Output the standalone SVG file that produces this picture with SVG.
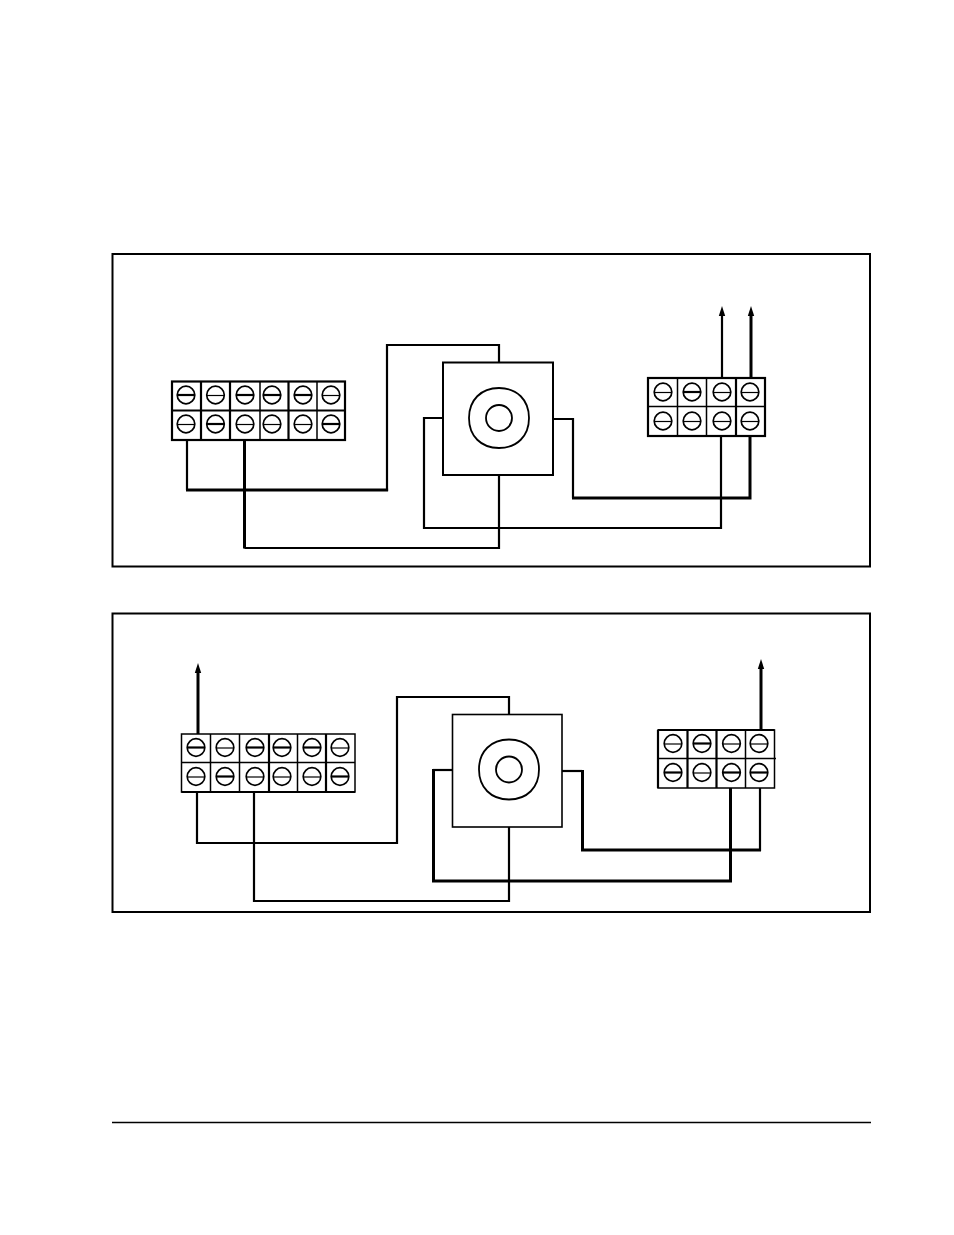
<svg xmlns="http://www.w3.org/2000/svg" width="954" height="1235" viewBox="0 0 954 1235">
<style>
rect,path,line,circle{fill:none;stroke:#000}
.bg{fill:#fff;stroke:none}
.f{stroke-width:2}
.b{stroke-width:2.2}
.t{stroke-width:1.5}
.c{stroke-width:1.7}
.w2{stroke-width:2.2}
.w3{stroke-width:3}
.a2{stroke-width:2.2;marker-end:url(#ah)}
.a3{stroke-width:3;marker-end:url(#ah)}
.r{stroke-width:1.3}
.sw{fill:#fff;stroke-width:2}
.sw2{fill:#fff;stroke-width:1.6}
.kn{stroke-width:1.8}
.s1{stroke-width:1.2}
.s2{stroke-width:2.2}
.head{fill:#000;stroke:none}
</style>
<defs>
<marker id="ah" markerUnits="userSpaceOnUse" markerWidth="12" markerHeight="8" refX="1" refY="4" orient="auto" viewBox="0 0 12 8"><path class="head" d="M0 0.800L10 4L0 7.200Z"/></marker>
<g id="sn"><circle r="8.800" class="c"/><line x1="-9" x2="9" y1="0.500" y2="0.500" class="s1"/></g>
<g id="st"><circle r="8.800" class="c"/><line x1="-9" x2="9" class="s2"/></g>
<g id="knob"><path class="kn" d="M0-30C18-30 30-18 30 0C30 18 18 30 0 30C-18 30-30 18-30 0C-30-18-18-30 0-30Z"/><circle r="13" class="kn"/></g>
</defs>
<rect class="bg" width="954" height="1235"/>
<rect id="frame-top" class="f" x="112.500" y="254" width="757.500" height="312.500"/>
<rect id="frame-bottom" class="f" x="112.500" y="613.500" width="757.500" height="298.500"/>
<line id="rule" class="r" x1="112" y1="1122.500" x2="871" y2="1122.500"/>

<g id="connectors">
<path class="w2" d="M187 440V490M387 491V345H499V362"/>
<path class="w3" d="M186 490H388.100M244.500 440V548.500"/>
<path class="w2" d="M244.500 548H499V475"/>
<path class="w2" d="M443 418H424V528H721V436"/>
<path class="w2" d="M553 419H573V498"/>
<path class="w3" d="M572 498H750V436"/>
<line class="a2" x1="722" y1="378" x2="722" y2="315"/>
<line class="a3" x1="751" y1="378" x2="751" y2="315"/>

<path class="w2" d="M197 792V843H397V697H509V714"/>
<path class="w2" d="M254 792V901H509V827"/>
<path class="w2" d="M452 770H433"/>
<path class="w3" d="M433.500 769V881H730.500V788"/>
<path class="w2" d="M562 771H582"/>
<path class="w3" d="M582.500 770V850H761"/>
<path class="w2" d="M760 851V788"/>
<line class="a3" x1="198" y1="734" x2="198" y2="672"/>
<line class="a3" x1="761" y1="730" x2="761" y2="668"/>
</g>

<g id="block-top-left">
<rect class="b" x="172" y="381.500" width="173" height="58.500"/>
<path class="b" d="M172 410.500H345M201 381.500V440M230 381.500V440M288.500 381.500V440"/>
<path class="t" d="M260 381.500V440M317 381.500V440"/>
<use href="#st" x="186" y="395"/><use href="#sn" x="215.500" y="395"/><use href="#st" x="245" y="395"/><use href="#st" x="272" y="395"/><use href="#st" x="303" y="395"/><use href="#sn" x="331" y="395"/>
<use href="#sn" x="186" y="424"/><use href="#st" x="215.500" y="424"/><use href="#sn" x="245" y="424"/><use href="#sn" x="272" y="424"/><use href="#sn" x="303" y="424"/><use href="#st" x="331" y="424"/>
</g>
<g id="switch-top">
<rect class="sw" x="443" y="362.500" width="110" height="112.500"/>
<use href="#knob" x="499" y="418"/>
</g>
<g id="block-top-right">
<rect class="b" x="648" y="378" width="117" height="58"/>
<path class="t" d="M648 406.500H765M677.500 378V436M706.500 378V436"/>
<path class="b" d="M736 378V436"/>
<use href="#sn" x="663" y="392"/><use href="#st" x="692" y="392"/><use href="#sn" x="722" y="392"/><use href="#sn" x="750" y="392"/>
<use href="#sn" x="663" y="421"/><use href="#sn" x="692" y="421"/><use href="#sn" x="722" y="421"/><use href="#sn" x="750" y="421"/>
</g>

<g id="block-bottom-left">
<rect class="t" x="181.500" y="734" width="173.500" height="58"/>
<path class="t" d="M181.500 762.500H355M210.500 734V792M239.500 734V792M297.500 734V792"/>
<path class="b" d="M181.500 792H355M269 734V792M326 734V792"/>
<use href="#st" x="196" y="747.500"/><use href="#sn" x="225" y="747.500"/><use href="#st" x="255" y="747.500"/><use href="#st" x="282" y="747.500"/><use href="#st" x="312" y="747.500"/><use href="#sn" x="340" y="747.500"/>
<use href="#sn" x="196" y="776.500"/><use href="#st" x="225" y="776.500"/><use href="#sn" x="255" y="776.500"/><use href="#sn" x="282" y="776.500"/><use href="#sn" x="312" y="776.500"/><use href="#st" x="340" y="776.500"/>
</g>
<g id="switch-bottom">
<rect class="sw2" x="452.500" y="714.500" width="109.500" height="112.500"/>
<use href="#knob" x="509" y="769.500"/>
</g>
<g id="block-bottom-right">
<rect class="t" x="658" y="730" width="116.500" height="58"/>
<path class="b" d="M658 730H774.500M658 730V788M687.500 730V788M716.500 730V788"/>
<path class="t" d="M658 758.500H776M745.500 730V788"/>
<use href="#sn" x="673" y="743.500"/><use href="#st" x="702" y="743.500"/><use href="#sn" x="731.500" y="743.500"/><use href="#sn" x="759" y="743.500"/>
<use href="#st" x="673" y="772.500"/><use href="#sn" x="702" y="772.500"/><use href="#st" x="731.500" y="772.500"/><use href="#st" x="759" y="772.500"/>
</g>
</svg>
